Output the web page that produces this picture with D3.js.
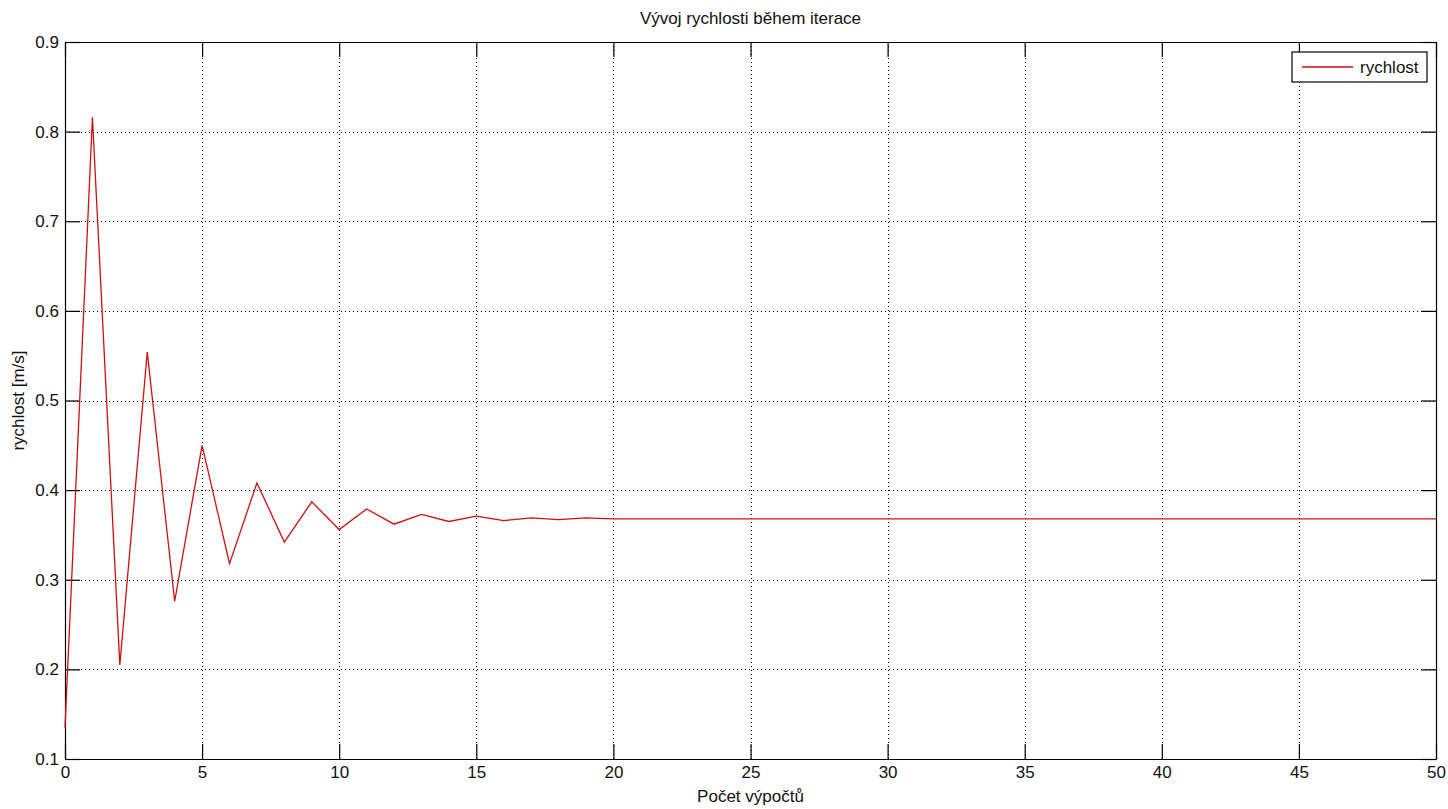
<!DOCTYPE html>
<html>
<head>
<meta charset="utf-8">
<script src="https://cdn.jsdelivr.net/npm/d3@7"></script>
<style>
  body { margin: 0; background: #fff; }
  text { font-family: "Liberation Sans", Arial, sans-serif; }
</style>
</head>
<body>
<div id="chart"></div>
<script>
// data: speed per iteration
var iterace = d3.range(0, 51);
var rychlost = [
  0.135, 0.816, 0.205, 0.554, 0.276, 0.450, 0.318, 0.408, 0.342, 0.387,
  0.356, 0.379, 0.362, 0.373, 0.365, 0.371, 0.366, 0.369, 0.367, 0.369,
  0.368, 0.368, 0.368, 0.368, 0.368, 0.368, 0.368, 0.368, 0.368, 0.368,
  0.368, 0.368, 0.368, 0.368, 0.368, 0.368, 0.368, 0.368, 0.368, 0.368,
  0.368, 0.368, 0.368, 0.368, 0.368, 0.368, 0.368, 0.368, 0.368, 0.368,
  0.368
];
var xTicks = [0, 5, 10, 15, 20, 25, 30, 35, 40, 45, 50];
var yTicks = [0.1, 0.2, 0.3, 0.4, 0.5, 0.6, 0.7, 0.8, 0.9];

var title = "Vývoj rychlosti během iterace",
    xLabel = "Počet výpočtů",
    yLabel = "rychlost [m/s]",
    seriesName = "rychlost";

var W = 1448, H = 809;
var margin = {top: 42, right: 12, bottom: 50, left: 65};
var width = W - margin.left - margin.right,
    height = H - margin.top - margin.bottom;

var svg = d3.select("#chart").append("svg")
    .attr("width", W)
    .attr("height", H);

var g = svg.append("g")
    .attr("transform", "translate(" + margin.left + "," + margin.top + ")");

var x = d3.scaleLinear().domain([0, 50]).range([0, width]);
var y = d3.scaleLinear().domain([0.1, 0.9]).range([height, 0]);

// dotted grid
g.append("g")
    .attr("class", "grid")
    .selectAll("line.gx")
    .data(xTicks.slice(1, -1))
    .enter().append("line")
    .attr("x1", function(d) { return Math.round(x(d)) + 0.5; })
    .attr("x2", function(d) { return Math.round(x(d)) + 0.5; })
    .attr("y1", 0).attr("y2", height);

g.select(".grid")
    .selectAll("line.gy")
    .data(yTicks.slice(1, -1))
    .enter().append("line")
    .attr("y1", function(d) { return Math.round(y(d)) + 0.5; })
    .attr("y2", function(d) { return Math.round(y(d)) + 0.5; })
    .attr("x1", 0).attr("x2", width);

g.selectAll(".grid line")
    .attr("stroke", "#000")
    .attr("stroke-width", 1)
    .attr("stroke-dasharray", "1,3");

// axes with inward ticks (all four sides)
var fmtY = d3.format(".1f");
var xAxis = d3.axisBottom(x).tickValues(xTicks).tickSizeInner(-15).tickSizeOuter(0).tickPadding(7);
var yAxis = d3.axisLeft(y).tickValues(yTicks).tickFormat(fmtY).tickSizeInner(-15).tickSizeOuter(0).tickPadding(6);
var xTop = d3.axisTop(x).tickValues(xTicks).tickSizeInner(-15).tickSizeOuter(0).tickFormat("");
var yRight = d3.axisRight(y).tickValues(yTicks).tickSizeInner(-15).tickSizeOuter(0).tickFormat("");

g.append("g").attr("class", "axis").attr("transform", "translate(0," + height + ")").call(xAxis);
g.append("g").attr("class", "axis").call(yAxis);
g.append("g").attr("class", "axis").call(xTop);
g.append("g").attr("class", "axis").attr("transform", "translate(" + width + ",0)").call(yRight);

g.selectAll(".axis path").attr("stroke", "#000").attr("stroke-width", 1.2);
g.selectAll(".axis line").attr("stroke", "#000").attr("stroke-width", 1.2);
g.selectAll(".axis text")
    .attr("fill", "#111")
    .style("font-family", "'Liberation Sans', Arial, sans-serif")
    .style("font-size", "17px");

// speed line
var line = d3.line()
    .x(function(d, i) { return x(iterace[i]); })
    .y(function(d) { return y(d); });

g.append("path")
    .datum(rychlost)
    .attr("fill", "none")
    .attr("stroke", "#d01010")
    .attr("stroke-width", 1.3)
    .attr("d", line);

// title and labels
svg.append("text")
    .attr("x", margin.left + width / 2)
    .attr("y", 24)
    .attr("text-anchor", "middle")
    .style("font-size", "17px")
    .attr("fill", "#111")
    .text(title);

svg.append("text")
    .attr("x", margin.left + width / 2)
    .attr("y", 802)
    .attr("text-anchor", "middle")
    .style("font-size", "17px")
    .attr("fill", "#111")
    .text(xLabel);

svg.append("text")
    .attr("transform", "translate(24," + (margin.top + height / 2) + ") rotate(-90)")
    .attr("text-anchor", "middle")
    .style("font-size", "17px")
    .attr("fill", "#111")
    .text(yLabel);

// legend
var leg = svg.append("g").attr("transform", "translate(1292,52)");
leg.append("rect")
    .attr("width", 135).attr("height", 30)
    .attr("fill", "#fff")
    .attr("stroke", "#000")
    .attr("stroke-width", 1.2);
leg.append("line")
    .attr("x1", 10).attr("x2", 61)
    .attr("y1", 15).attr("y2", 15)
    .attr("stroke", "#d01010")
    .attr("stroke-width", 1.3);
leg.append("text")
    .attr("x", 68).attr("y", 21)
    .style("font-size", "17px")
    .attr("fill", "#111")
    .text(seriesName);
</script>
</body>
</html>
